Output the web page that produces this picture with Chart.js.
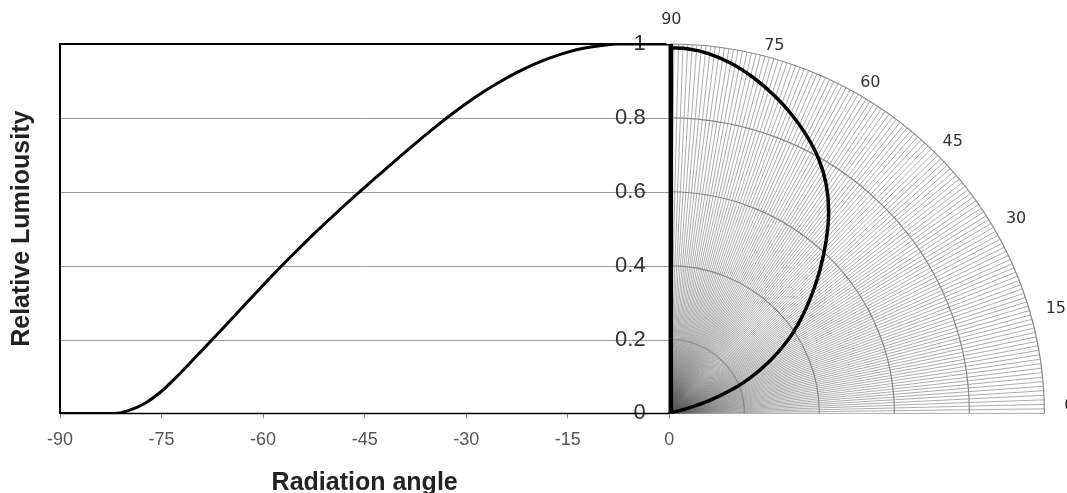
<!DOCTYPE html>
<html>
<head>
<meta charset="utf-8">
<script src="https://cdn.jsdelivr.net/npm/chart.js@4.4.1/dist/chart.umd.min.js"></script>
<style>
  body { margin: 0; background: #fff; }
</style>
</head>
<body>
<canvas id="grafico" width="1067" height="493"></canvas>
<script>
// Ángulo de radiación (grados) y luminosidad relativa
const angulos = [-90, -85, -82, -80, -77.5, -75, -72.5, -70, -67.5, -65, -62.5, -60, -57.5, -55, -52.5, -50, -47.5, -45, -42.5, -40, -37.5, -35, -32.5, -30, -27.5, -25, -22.5, -20, -17.5, -15, -12.5, -10, -7.5, -5, -2.5, 0];
const luminosidad = [0, 0, 0, 0.007, 0.027, 0.06, 0.104, 0.152, 0.2, 0.249, 0.298, 0.347, 0.395, 0.441, 0.486, 0.529, 0.571, 0.612, 0.652, 0.692, 0.731, 0.769, 0.805, 0.839, 0.87, 0.898, 0.923, 0.945, 0.963, 0.978, 0.989, 0.996, 1, 1, 1, 1];

// Curva del diagrama polar (ángulo en grados, radio relativo)
const anguloPolar = [14, 16, 18, 21, 24, 28, 32, 36, 40, 44, 48, 52, 56, 60, 64, 68, 72, 76, 80, 84, 87, 90];
const radioPolar = [0, 0.05, 0.11, 0.175, 0.235, 0.305, 0.372, 0.433, 0.494, 0.558, 0.624, 0.69, 0.748, 0.796, 0.836, 0.872, 0.905, 0.935, 0.961, 0.98, 0.988, 0.99];

const ticksX = [-90, -75, -60, -45, -30, -15, 0];
const ticksY = [0, 0.2, 0.4, 0.6, 0.8, 1];
const anillosPolar = [0.2, 0.4, 0.6, 0.8, 1];
const etiquetasPolar = [0, 15, 30, 45, 60, 75, 90];

const escalaPolar = 55.4;   // unidades de x que equivalen a radio 1
const numRadios = 128;
const fuente = "'Liberation Sans', Arial, sans-serif";

// Curva cartesiana
const puntosCart = angulos.map((a, i) => ({ x: a, y: luminosidad[i] }));

// Curva polar pasada a x/y
const puntosPolar = anguloPolar.map((g, i) => {
  const t = g * Math.PI / 180;
  return { x: radioPolar[i] * Math.cos(t) * escalaPolar, y: radioPolar[i] * Math.sin(t) };
});

const fondo = {
  id: 'fondo',
  beforeDraw(chart) {
    const { ctx, scales: { x, y } } = chart;
    const cx = x.getPixelForValue(0), cy = y.getPixelForValue(0);
    const rx = x.getPixelForValue(escalaPolar) - cx;
    const ry = cy - y.getPixelForValue(1);
    ctx.save();

    // rejilla horizontal de la parte izquierda
    ctx.strokeStyle = '#999';
    ctx.lineWidth = 1;
    ticksY.slice(1, -1).forEach(v => {
      const py = Math.round(y.getPixelForValue(v)) + 0.5;
      ctx.beginPath();
      ctx.moveTo(x.getPixelForValue(-90), py);
      ctx.lineTo(cx, py);
      ctx.stroke();
    });

    // radios
    ctx.strokeStyle = 'rgba(90,90,90,0.5)';
    for (let i = 0; i <= numRadios; i++) {
      const t = i / numRadios * Math.PI / 2;
      ctx.beginPath();
      ctx.moveTo(cx, cy);
      ctx.lineTo(cx + rx * Math.cos(t), cy - ry * Math.sin(t));
      ctx.stroke();
    }

    // anillos
    ctx.strokeStyle = '#888';
    ctx.lineWidth = 1.2;
    anillosPolar.forEach(r => {
      ctx.beginPath();
      ctx.ellipse(cx, cy, rx * r, ry * r, 0, -Math.PI / 2, 0);
      ctx.stroke();
    });
    ctx.restore();
  },
  afterDraw(chart) {
    const { ctx, scales: { x, y } } = chart;
    const cx = x.getPixelForValue(0), cy = y.getPixelForValue(0);
    const rx = x.getPixelForValue(escalaPolar) - cx;
    const ry = cy - y.getPixelForValue(1);
    const x0 = x.getPixelForValue(-90);
    const yTop = y.getPixelForValue(1);
    ctx.save();

    // marcos
    ctx.strokeStyle = '#000';
    ctx.lineWidth = 2;
    ctx.beginPath();
    ctx.moveTo(x0, yTop);
    ctx.lineTo(cx - 3, yTop);
    ctx.stroke();
    ctx.lineWidth = 1.5;
    ctx.beginPath();
    ctx.moveTo(x0, cy);
    ctx.lineTo(cx, cy);
    ctx.stroke();
    ctx.lineWidth = 4.5;
    ctx.beginPath();
    ctx.moveTo(cx + 1.5, cy);
    ctx.lineTo(cx + 1.5, yTop);
    ctx.stroke();

    // etiquetas del ángulo polar, por fuera del arco exterior
    ctx.fillStyle = '#333';
    ctx.font = "16px 'DejaVu Sans', sans-serif";
    ctx.textAlign = 'center';
    ctx.textBaseline = 'middle';
    etiquetasPolar.forEach(d => {
      const t = d * Math.PI / 180;
      const dx = 23 * Math.cos(t) + 2;
      const dy = d === 90 ? -24 : -(8 + 3 * Math.sin(t));
      ctx.fillText(String(d), cx + rx * Math.cos(t) + dx, cy - ry * Math.sin(t) + dy);
    });

    // título del eje x, centrado en la parte cartesiana
    ctx.fillStyle = '#222';
    ctx.font = 'bold 25px ' + fuente;
    ctx.textBaseline = 'alphabetic';
    ctx.fillText('Radiation angle', (x0 + cx) / 2, chart.height - 3);
    ctx.restore();
  }
};

const ctx = document.getElementById('grafico').getContext('2d');
const chart = new Chart(ctx, {
  type: 'scatter',
  data: {
    datasets: [
      {
        label: 'Cartesiano',
        data: puntosCart,
        showLine: true,
        borderColor: '#000',
        borderWidth: 3,
        pointRadius: 0,
        cubicInterpolationMode: 'monotone'
      },
      {
        label: 'Polar',
        data: puntosPolar,
        showLine: true,
        borderColor: '#000',
        borderWidth: 3.5,
        pointRadius: 0,
        tension: 0.4
      }
    ]
  },
  options: {
    responsive: false,
    animation: false,
    layout: { padding: { top: 44, right: 5, bottom: 31, left: 0 } },
    plugins: {
      legend: { display: false },
      tooltip: { enabled: false }
    },
    scales: {
      x: {
        type: 'linear',
        min: -90,
        max: 58,
        afterBuildTicks: s => { s.ticks = ticksX.map(v => ({ value: v })); },
        grid: { drawOnChartArea: false, drawTicks: true, tickLength: 5, color: '#888' },
        border: { display: false },
        ticks: { font: { family: fuente, size: 18 }, color: '#555', padding: 11, maxRotation: 0 }
      },
      y: {
        type: 'linear',
        min: 0,
        max: 1,
        position: { x: -3.5 },
        afterBuildTicks: s => { s.ticks = ticksY.map(v => ({ value: v })); },
        grid: { display: false, drawTicks: false },
        border: { display: false },
        ticks: { font: { family: fuente, size: 22 }, color: '#333', padding: 0, callback: v => String(v) }
      },
      y2: {
        type: 'linear',
        min: 0,
        max: 1,
        position: 'left',
        grid: { display: false, drawTicks: false },
        border: { display: true, color: '#000', width: 2 },
        ticks: { display: false },
        title: {
          display: true,
          text: 'Relative Lumiousity',
          font: { family: fuente, size: 25, weight: 'bold' },
          color: '#222',
          padding: { top: 7, bottom: 23 }
        }
      }
    }
  },
  plugins: [fondo]
});
</script>
</body>
</html>
